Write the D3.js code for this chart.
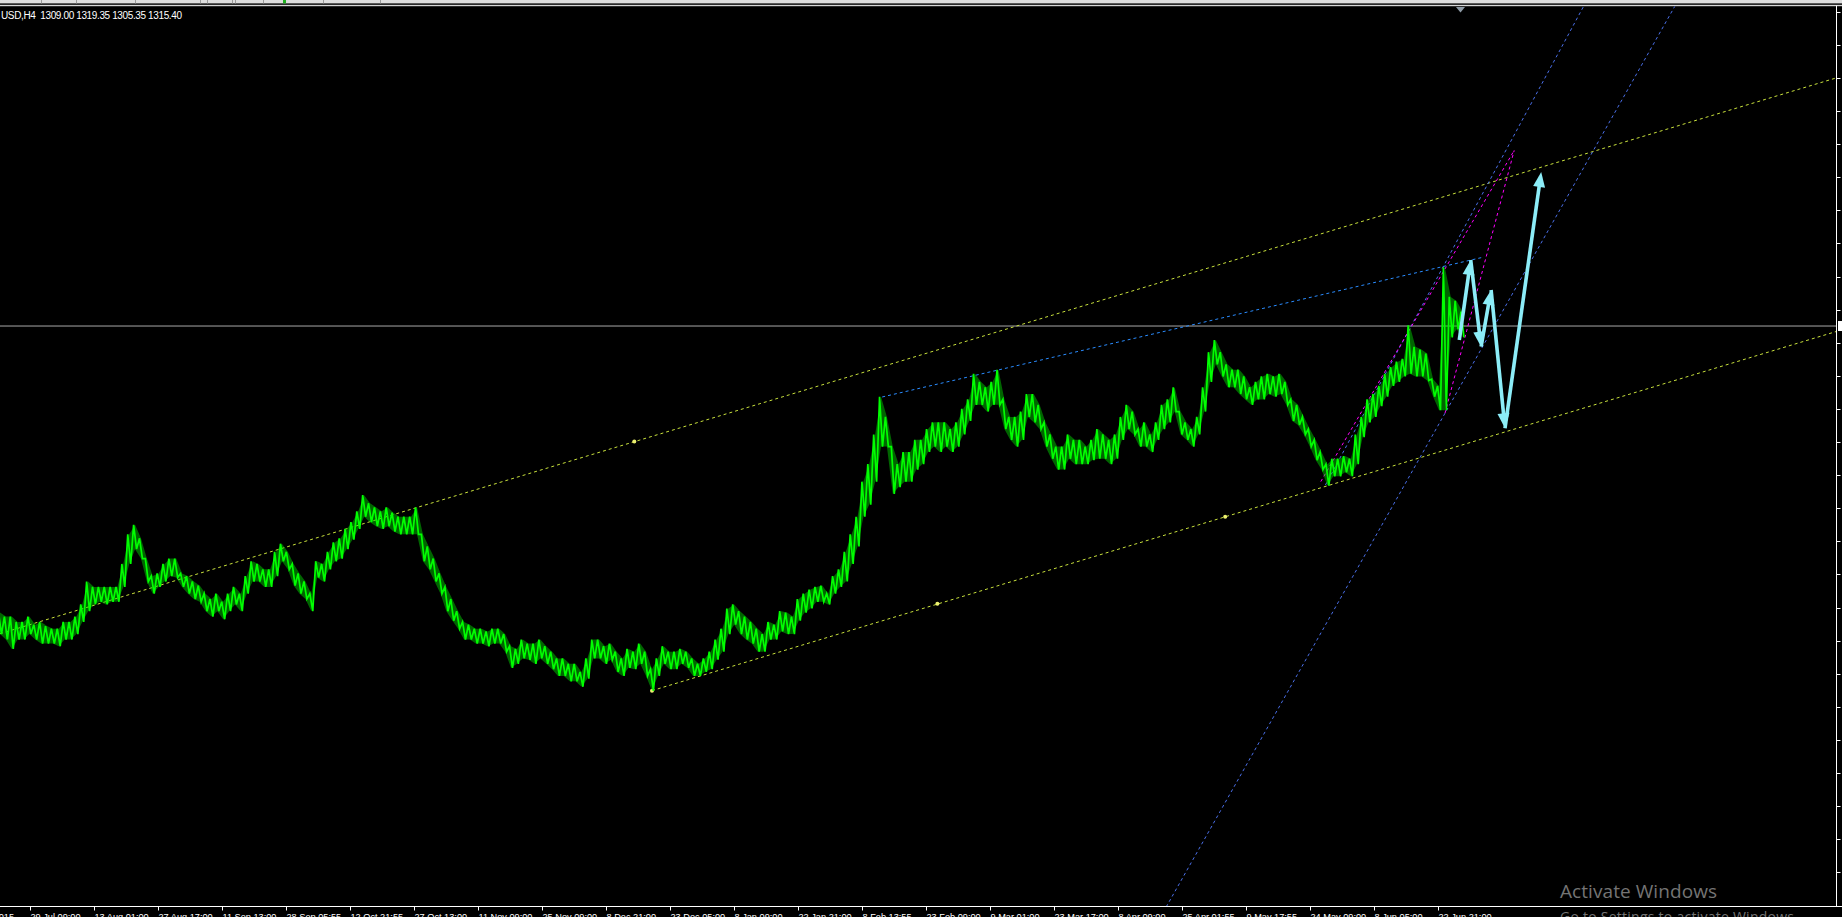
<!DOCTYPE html>
<html><head><meta charset="utf-8">
<script src="https://cdn.jsdelivr.net/npm/d3@7"></script>
<style>html,body{margin:0;padding:0;background:#000;overflow:hidden}svg{display:block}</style>
</head><body><svg id="c" width="1842" height="917"></svg>
<script>
// ---------- data ----------
const headerText = "USD,H4  1309.00 1319.35 1305.35 1315.40";
const lastPrice = 1315.40;
const sampleStepBars = 5.8735;   // H4 bars between successive samples
const highs = [
1103,1100,1100,1096,1096,1100,1094,1096,1093,1091,
1091,1096,1096,1100,1109,1126,1122,1122,1122,1122,
1122,1139,1161,1168,1158,1143,1130,1132,1139,1143,
1143,1132,1130,1126,1123,1117,1113,1117,1111,1117,
1122,1117,1130,1141,1139,1135,1135,1148,1154,1148,
1139,1132,1126,1117,1141,1139,1148,1155,1158,1165,
1170,1178,1190,1184,1181,1178,1181,1177,1174,1174,
1174,1181,1161,1152,1143,1132,1122,1113,1104,1096,
1094,1091,1091,1089,1091,1091,1087,1078,1076,1083,
1080,1080,1083,1078,1074,1069,1069,1065,1065,1059,
1069,1083,1083,1078,1080,1074,1069,1076,1074,1080,
1074,1061,1069,1078,1074,1074,1076,1074,1069,1065,
1069,1074,1083,1091,1106,1109,1104,1100,1096,1091,
1087,1096,1094,1104,1103,1100,1113,1117,1120,1122,
1123,1117,1130,1135,1148,1161,1174,1200,1213,1235,
1263,1248,1226,1213,1222,1222,1231,1231,1239,1244,
1244,1244,1239,1244,1254,1261,1280,1274,1270,1274,
1283,1261,1248,1248,1252,1265,1265,1257,1244,1235,
1226,1226,1235,1231,1231,1226,1231,1239,1235,1231,
1235,1248,1257,1252,1239,1244,1235,1244,1257,1261,
1270,1252,1244,1239,1248,1270,1296,1305,1296,1287,
1283,1283,1278,1270,1274,1278,1280,1278,1280,1274,
1261,1257,1248,1239,1231,1222,1213,1217,1217,1219,
1217,1235,1248,1261,1265,1271,1280,1285,1289,1291,
1316,1300,1298,1295,1276,1271,1359,1337,1334,1326];
const lows = [
1087,1083,1076,1083,1083,1087,1083,1080,1080,1080,
1078,1083,1083,1087,1096,1104,1109,1111,1109,1111,
1111,1122,1139,1150,1143,1126,1117,1122,1126,1130,
1129,1122,1117,1113,1111,1104,1100,1104,1098,1104,
1109,1104,1117,1126,1126,1122,1122,1130,1141,1135,
1123,1117,1113,1104,1129,1126,1135,1141,1143,1150,
1157,1165,1174,1170,1167,1165,1167,1163,1161,1161,
1161,1161,1141,1135,1126,1117,1104,1097,1091,1083,
1083,1080,1080,1078,1080,1080,1074,1062,1065,1069,
1068,1065,1069,1065,1061,1056,1056,1052,1052,1048,
1054,1069,1069,1065,1068,1059,1056,1062,1061,1065,
1056,1045,1056,1065,1061,1061,1065,1062,1056,1056,
1059,1061,1068,1074,1087,1094,1087,1083,1080,1074,
1074,1083,1083,1089,1087,1087,1097,1103,1106,1111,
1111,1109,1117,1122,1126,1139,1152,1174,1183,1200,
1226,1226,1191,1196,1200,1200,1209,1213,1222,1226,
1222,1226,1222,1226,1235,1245,1257,1257,1252,1257,
1257,1239,1231,1226,1231,1248,1244,1239,1226,1217,
1209,1209,1217,1213,1213,1213,1216,1217,1217,1213,
1217,1231,1239,1235,1226,1226,1222,1231,1239,1244,
1252,1235,1231,1226,1235,1252,1274,1287,1278,1270,
1270,1265,1261,1257,1261,1261,1265,1263,1265,1257,
1245,1242,1235,1226,1216,1209,1197,1204,1204,1207,
1204,1213,1233,1244,1248,1256,1263,1271,1274,1278,
1280,1278,1278,1275,1263,1253,1253,1307,1313,1307];

const timeTickBars = [-34,30,94,158,222,286,350,414,478,542,606,670,734,798,862,926,990,1054,1118,1182,1246,1310,1374,1438];
const timeTickLabels = ["14 Jul 2015","29 Jul 09:00","13 Aug 01:00","27 Aug 17:00","11 Sep 13:00","28 Sep 05:55",
 "12 Oct 21:55","27 Oct 13:00","11 Nov 09:00","25 Nov 09:00","8 Dec 21:00","23 Dec 05:00","8 Jan 09:00",
 "22 Jan 21:00","8 Feb 13:55","23 Feb 09:00","9 Mar 01:00","23 Mar 17:00","8 Apr 09:00","25 Apr 01:55",
 "9 May 17:55","24 May 09:00","8 Jun 05:00","22 Jun 21:00"];
const priceTicks = [1548.4,1523.9,1499.3,1474.8,1450.2,1425.7,1401.2,1376.6,1352.1,1327.5,1303.0,1278.5,1253.9,1229.4,
 1204.8,1180.3,1155.8,1131.2,1106.7,1082.1,1057.6,1033.1,1008.5,984.0,959.4,934.9,910.4,885.8];

// drawn objects, as [bar, price] points
const channelUpper = [[0,1087.3],[1837,1499.5]];
const channelLower = [[652,1045.1],[1837,1311.5]];
const channelMarkers = [[634.3,1229.7],[652,1045.1],[937.4,1109.5],[1225.2,1174.0]];
const febLine = [[882.2,1262.8],[1483.1,1366.4]];
const steepLineA = [[1325.4,1197.5],[1583.8,1552.7]];
const steepLineB = [[1160.3,877.0],[1675,1552.7]];
const magentaLine1 = [[1320.8,1200.1],[1514.2,1445.6]];
const magentaLine2 = [[1445.0,1250.8],[1514.2,1445.6]];
const arrowPath = [[1459.3,1305.1],[1470.7,1364.4],[1481.1,1300.1],[1491.1,1342.1],[1505.0,1239.6],[1541.2,1429.5]];

// ---------- layout ----------
const W = 1842, H = 917;
const plotR = 1836.5, plotT = 6.5, plotB = 906.5;
const x = d3.scaleLinear().domain([0, 1837]).range([0, 1837]);
const y = d3.scaleLinear().domain([884.7, 1551.9]).range([907, 7]);

const svg = d3.select("#c");
svg.append("rect").attr("width", W).attr("height", H).attr("fill", "#000");
const defs = svg.append("defs");

// top toolbar strip
svg.append("rect").attr("x",0).attr("y",0).attr("width",W).attr("height",3.4).attr("fill","#dedede");
[41,76,135,200,207,232,235,263,323,380].forEach(sx=>{
  svg.append("rect").attr("x",sx).attr("y",0).attr("width",1).attr("height",3.4).attr("fill","#9a9a9a");
});
svg.append("rect").attr("x",283).attr("y",0).attr("width",3).attr("height",3.4).attr("fill","#20b020");
svg.append("rect").attr("x",0).attr("y",4.8).attr("width",W).attr("height",1.4).attr("fill","#d8d8d8");

defs.append("clipPath").attr("id","plot").append("rect")
  .attr("x",0).attr("y",plotT).attr("width",plotR).attr("height",plotB-plotT);
const g = svg.append("g").attr("clip-path","url(#plot)");

const line = d3.line().x(d=>x(d[0])).y(d=>y(d[1]));

// last price line
g.append("line").attr("x1",0).attr("x2",plotR).attr("y1",y(lastPrice)).attr("y2",y(lastPrice))
  .attr("stroke","#a8a8a8").attr("stroke-width",1);

// dotted objects
function dotted(pts, color){
  g.append("path").attr("d", line(pts)).attr("fill","none").attr("stroke",color)
   .attr("stroke-width",1).attr("stroke-dasharray","3,3");
}
dotted(channelUpper, "#c8e03c");
dotted(channelLower, "#c8e03c");
dotted(febLine, "#2a8cff");
dotted(steepLineA, "#4a6fe8");
dotted(steepLineB, "#4a6fe8");
dotted(magentaLine1, "#ff00ff");
dotted(magentaLine2, "#ff00ff");

channelMarkers.forEach(p=>{
  g.append("circle").attr("cx",x(p[0])).attr("cy",y(p[1])).attr("r",2).attr("fill","#ecf070");
});

// price series: H4 bar range band (sampled highs / lows), drawn as a dense sawtooth of bar strokes
const samples = highs.map((h,i)=>({b:i*sampleStepBars, h:h, l:lows[i]}));
const area = d3.area().x(d=>x(d.b)).y0(d=>y(d.l)).y1(d=>y(d.h));
g.append("path").attr("d", area(samples)).attr("fill","#00e000").attr("fill-opacity",0.45);
const q = sampleStepBars/4;
const saw = [];
samples.forEach(d=>{ saw.push([d.b-q, d.h],[d.b+q, d.l]); });
g.append("path").attr("d", line(saw)).attr("fill","none").attr("stroke","#00ff00")
  .attr("stroke-width",1.7).attr("stroke-linejoin","miter");

// forecast arrows
const arrowColor = "#8cedf8";
for (let i=0;i<arrowPath.length-1;i++){
  const p0=[x(arrowPath[i][0]),y(arrowPath[i][1])], p1=[x(arrowPath[i+1][0]),y(arrowPath[i+1][1])];
  const dx=p1[0]-p0[0], dy=p1[1]-p0[1], L=Math.hypot(dx,dy), ux=dx/L, uy=dy/L;
  const hl=15, hw=6;
  const bx=p1[0]-ux*hl, by=p1[1]-uy*hl;
  g.append("line").attr("x1",p0[0]).attr("y1",p0[1]).attr("x2",bx+ux*2).attr("y2",by+uy*2)
    .attr("stroke",arrowColor).attr("stroke-width",3.6);
  g.append("polygon").attr("points",[[p1[0],p1[1]],[bx-uy*hw,by+ux*hw],[bx+uy*hw,by-ux*hw]].map(q=>q.join(",")).join(" "))
    .attr("fill",arrowColor);
}

// axes frame
svg.append("line").attr("x1",plotR).attr("x2",plotR).attr("y1",plotT-1).attr("y2",plotB).attr("stroke","#fff");
svg.append("line").attr("x1",0).attr("x2",1842).attr("y1",plotB).attr("y2",plotB).attr("stroke","#fff");
priceTicks.forEach(p=>{
  svg.append("line").attr("x1",plotR).attr("x2",plotR+4).attr("y1",Math.round(y(p))+0.5).attr("y2",Math.round(y(p))+0.5).attr("stroke","#fff");
});
svg.append("rect").attr("x",1838).attr("y",y(lastPrice)-5).attr("width",6).attr("height",10).attr("fill","#fff");

timeTickBars.forEach((b,i)=>{
  const tx = Math.round(x(b))+0.5;
  svg.append("line").attr("x1",tx).attr("x2",tx).attr("y1",plotB).attr("y2",plotB+4).attr("stroke","#fff");
  svg.append("text").attr("x",tx).attr("y",920).attr("fill","#fff")
    .attr("font-family","Liberation Sans, Arial, sans-serif").attr("font-size",9.2).text(timeTickLabels[i]);
});

// shift marker
svg.append("polygon").attr("points","1456,7 1465,7 1460.5,12.5").attr("fill","#8f9ba6");

// header
svg.append("text").attr("x",1).attr("y",19).attr("fill","#fff")
  .attr("font-family","Liberation Sans, Arial, sans-serif").attr("font-size",10)
  .attr("textLength",181).attr("lengthAdjust","spacing").attr("xml:space","preserve").style("white-space","pre")
  .text(headerText);

// OS watermark
svg.append("text").attr("x",1560).attr("y",898).attr("fill","#747474")
  .attr("font-family","Open Sans, Noto Sans, sans-serif").attr("font-size",19)
  .attr("textLength",157).text("Activate Windows");
svg.append("text").attr("x",1560).attr("y",922).attr("fill","#747474")
  .attr("font-family","Open Sans, Noto Sans, sans-serif").attr("font-size",14)
  .attr("textLength",234).text("Go to Settings to activate Windows");
</script></body></html>
